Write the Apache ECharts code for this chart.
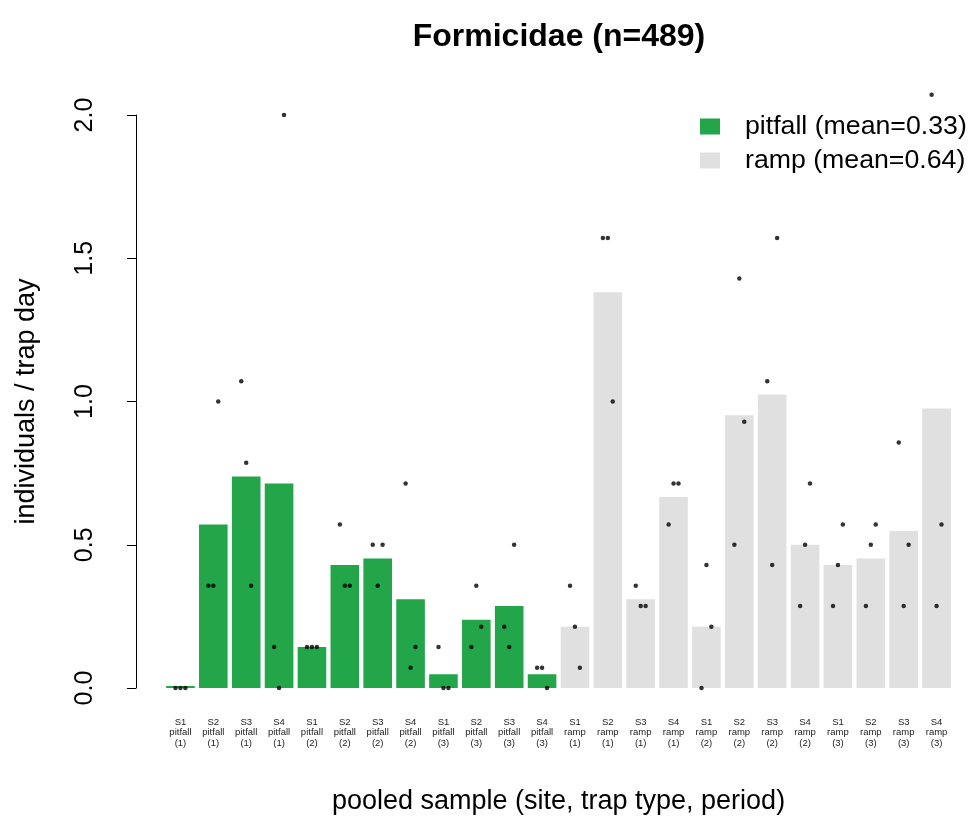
<!DOCTYPE html>
<html>
<head>
<meta charset="utf-8">
<script src="https://cdn.jsdelivr.net/npm/echarts@6/dist/echarts.min.js"></script>
<style>
  html, body { margin: 0; padding: 0; background: #ffffff; }
  #chart { width: 968px; height: 816px; }
</style>
</head>
<body>
<div id="chart"></div>
<script>
// ---- data ----
const sites   = ['S1', 'S2', 'S3', 'S4'];
const traps   = ['pitfall', 'ramp'];
const periods = ['1', '2', '3'];

// pooled bar heights (individuals / trap day)
const pitfallMeans = [0, 0.571, 0.738, 0.714, 0.143, 0.429, 0.452, 0.310, 0.048, 0.238, 0.286, 0.048];
const rampMeans    = [0.214, 1.381, 0.310, 0.667, 0.214, 0.952, 1.024, 0.500, 0.429, 0.452, 0.548, 0.976];

// individual replicate points (left / middle / right jitter position in each bar)
const dotLeft  = [0, 0.357, 1.071, 0.143, 0.143, 0.571, 0.5, 0.714, 0.143, 0.143, 0.214, 0.071,
                  0.357, 1.571, 0.357, 0.571, 0, 0.5, 1.071, 0.286, 0.286, 0.286, 0.857, 2.071];
const dotMid   = [0, 0.357, 0.786, 0, 0.143, 0.357, 0.357, 0.071, 0, 0.357, 0.143, 0.071,
                  0.214, 1.571, 0.286, 0.714, 0.429, 1.429, 0.429, 0.5, 0.429, 0.5, 0.286, 0.286];
const dotRight = [0, 1.0, 0.357, 2.0, 0.143, 0.357, 0.5, 0.143, 0, 0.214, 0.5, 0,
                  0.071, 1.0, 0.286, 0.714, 0.214, 0.929, 1.571, 0.714, 0.571, 0.571, 0.5, 0.571];
const jitterStep = 0.15; // horizontal jitter in category widths

const yTicks = [0, 0.5, 1.0, 1.5, 2.0];

const pitfallName = 'pitfall (mean=0.33)';
const rampName    = 'ramp (mean=0.64)';

// ---- build ----
const categories = [];
traps.forEach(t => periods.forEach(p => sites.forEach(s => categories.push(s + '\n' + t + '\n(' + p + ')'))));

const nP = pitfallMeans.length;
const pitfallData = categories.map((c, i) => i < nP ? pitfallMeans[i] : null);
const rampData    = categories.map((c, i) => i >= nP ? rampMeans[i - nP] : null);

const dots = [];
categories.forEach((c, i) => {
  dots.push([i - jitterStep, dotLeft[i]]);
  dots.push([i, dotMid[i]]);
  dots.push([i + jitterStep, dotRight[i]]);
});

const FONT = '"Liberation Sans", Arial, Helvetica, sans-serif';
const GREEN = '#23a54a';
const GREY = '#e0e0e0';

const chart = echarts.init(document.getElementById('chart'), null, { renderer: 'canvas' });
chart.setOption({
  backgroundColor: '#ffffff',
  animation: false,
  title: {
    text: 'Formicidae (n=489)',
    left: 559,
    top: 21,
    textAlign: 'center',
    padding: 0,
    textStyle: { fontFamily: FONT, fontSize: 32, fontWeight: 'bold', color: '#000' }
  },
  legend: {
    orient: 'vertical',
    left: 700,
    top: 111,
    padding: 0,
    itemWidth: 20,
    itemHeight: 16,
    itemGap: 3,
    icon: 'rect',
    data: [pitfallName, rampName],
    textStyle: { fontFamily: FONT, fontSize: 26.7, color: '#000', lineHeight: 31, padding: [0, 0, 0, 20] }
  },
  grid: { left: 164, right: 15, top: 115, bottom: 128, containLabel: false, outerBoundsMode: 'none' },
  xAxis: [
    {
      type: 'category',
      data: categories,
      boundaryGap: true,
      axisLine: { show: false },
      axisTick: { show: false },
      splitLine: { show: false },
      axisLabel: {
        interval: 0,
        margin: 29,
        fontFamily: FONT,
        fontSize: 9.5,
        lineHeight: 10.5,
        color: '#222',
        align: 'center'
      },
      name: 'pooled sample (site, trap type, period)',
      nameLocation: 'middle',
      nameGap: 100,
      nameTextStyle: { fontFamily: FONT, fontSize: 27, color: '#000' }
    },
    {
      type: 'value',
      min: -0.5,
      max: categories.length - 0.5,
      show: false
    }
  ],
  yAxis: {
    type: 'value',
    min: yTicks[0],
    max: yTicks[yTicks.length - 1],
    interval: 0.5,
    offset: 28,
    axisLine: { show: true, onZero: false, lineStyle: { color: '#000', width: 1 } },
    axisTick: { show: true, length: 9, inside: false, lineStyle: { color: '#000', width: 1 } },
    splitLine: { show: false },
    axisLabel: {
      rotate: 90,
      margin: 38,
      fontFamily: FONT,
      fontSize: 25,
      color: '#000',
      formatter: v => v.toFixed(1)
    },
    name: 'individuals / trap day',
    nameLocation: 'middle',
    nameGap: 96,
    nameTextStyle: { fontFamily: FONT, fontSize: 27, color: '#000' }
  },
  series: [
    {
      name: pitfallName,
      type: 'bar',
      data: pitfallData,
      barGap: '-100%',
      barCategoryGap: '13%',
      barMinHeight: 2,
      itemStyle: { color: GREEN },
      emphasis: { disabled: true }
    },
    {
      name: rampName,
      type: 'bar',
      data: rampData,
      barGap: '-100%',
      barCategoryGap: '13%',
      itemStyle: { color: GREY },
      emphasis: { disabled: true }
    },
    {
      name: 'replicates',
      type: 'scatter',
      xAxisIndex: 1,
      data: dots,
      symbol: 'circle',
      symbolSize: 4.5,
      clip: false,
      itemStyle: { color: '#000' },
      emphasis: { disabled: true },
      z: 5
    }
  ]
});
</script>
</body>
</html>
